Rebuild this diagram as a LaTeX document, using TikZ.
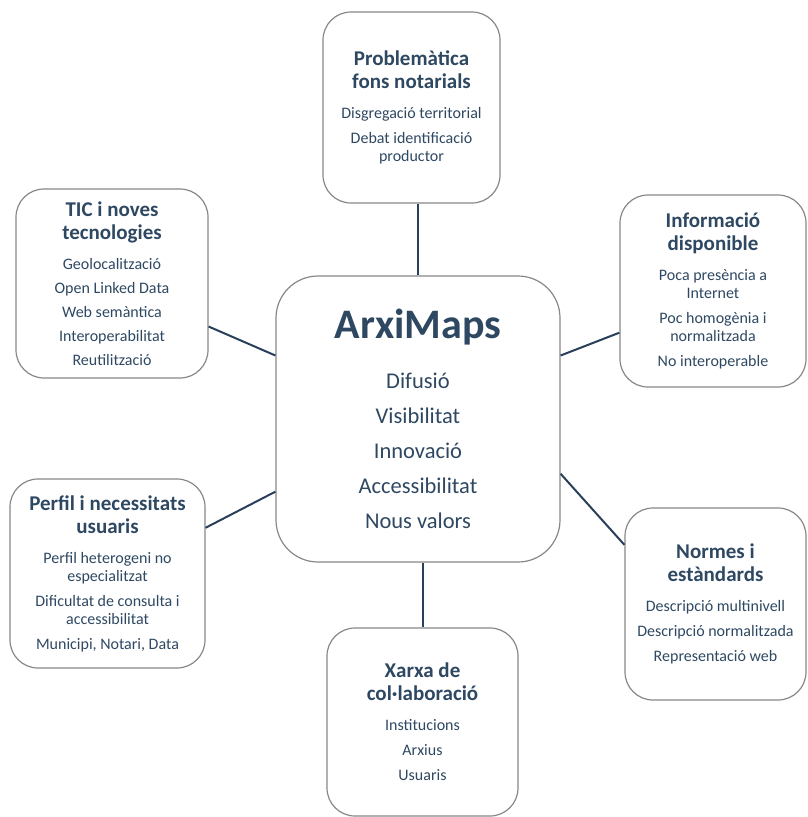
\documentclass[tikz,border=0pt]{standalone}
\usepackage{fontspec}
\setmainfont{Carlito}
\definecolor{boxtext}{RGB}{46,72,98}
\definecolor{boxedge}{RGB}{135,135,135}
\definecolor{linkblue}{RGB}{42,64,90}
\newcommand{\boxhead}[1]{{\fontsize{21}{23}\selectfont\bfseries #1}}
\newcommand{\fixedlines}{\lineskiplimit -50pt\relax}
\begin{document}
\begin{tikzpicture}[x=1pt,y=-1pt,
  topic/.style={draw=boxedge,line width=1.2pt,rounded corners=28pt,align=center,inner sep=0pt,
    text=boxtext,font=\fontsize{16}{18}\selectfont\fixedlines},
  hub/.style={topic,rounded corners=42pt,font=\fontsize{22.5}{35}\selectfont\fixedlines},
  link/.style={draw=linkblue,line width=2pt}]
  \useasboundingbox (0,0) rectangle (808,817);
  \node[hub,minimum width=284pt,minimum height=286pt] (hub) at (418,419)
    {{\fontsize{42}{44}\selectfont\bfseries ArxiMaps}\\[15pt]Difusió\\Visibilitat\\Innovació\\Accessibilitat\\Nous valors};
  \node[topic,minimum width=177pt,minimum height=191pt] (probl) at (411.5,107.5)
    {\boxhead{Problemàtica}\\[5pt]\boxhead{fons notarials}\\[12pt]Disgregació territorial\\[7pt]Debat identificació\\productor};
  \node[topic,minimum width=192pt,minimum height=189pt] (tic) at (112,283.5)
    {\boxhead{TIC i noves}\\[5pt]\boxhead{tecnologies}\\[12pt]Geolocalització\\[6pt]Open Linked Data\\[6pt]Web semàntica\\[6pt]Interoperabilitat\\[6pt]Reutilització};
  \node[topic,minimum width=186pt,minimum height=192pt] (info) at (713,291)
    {\boxhead{Informació}\\[5pt]\boxhead{disponible}\\[12pt]Poca presència a\\Internet\\[7pt]Poc homogènia i\\normalitzada\\[7pt]No interoperable};
  \node[topic,minimum width=195pt,minimum height=189pt] (perfil) at (107.5,573.5)
    {\boxhead{Perfil i necessitats}\\[5pt]\boxhead{usuaris}\\[12pt]Perfil heterogeni no\\especialitzat\\[7pt]Dificultat de consulta i\\accessibilitat\\[7pt]Municipi, Notari, Data};
  \node[topic,minimum width=181pt,minimum height=192pt] (normes) at (715.5,604)
    {\boxhead{Normes i}\\[5pt]\boxhead{estàndards}\\[12pt]Descripció multinivell\\[7pt]Descripció normalitzada\\[7pt]Representació web};
  \node[topic,minimum width=191pt,minimum height=188pt] (xarxa) at (422.5,722)
    {\boxhead{Xarxa de}\\[5pt]\boxhead{col·laboració}\\[12pt]Institucions\\[7pt]Arxius\\[7pt]Usuaris};
  \draw[link] (hub.north) -- (hub.north |- probl.south);
  \draw[link] (xarxa.north |- hub.south) -- (xarxa.north);
  \draw[link] (hub.156) -- (tic.-24);
  \draw[link] (hub.207) -- (perfil.25);
  \draw[link] (hub.24) -- (info.204);
  \draw[link] (hub.-21) -- (normes.147);
\end{tikzpicture}
\end{document}
